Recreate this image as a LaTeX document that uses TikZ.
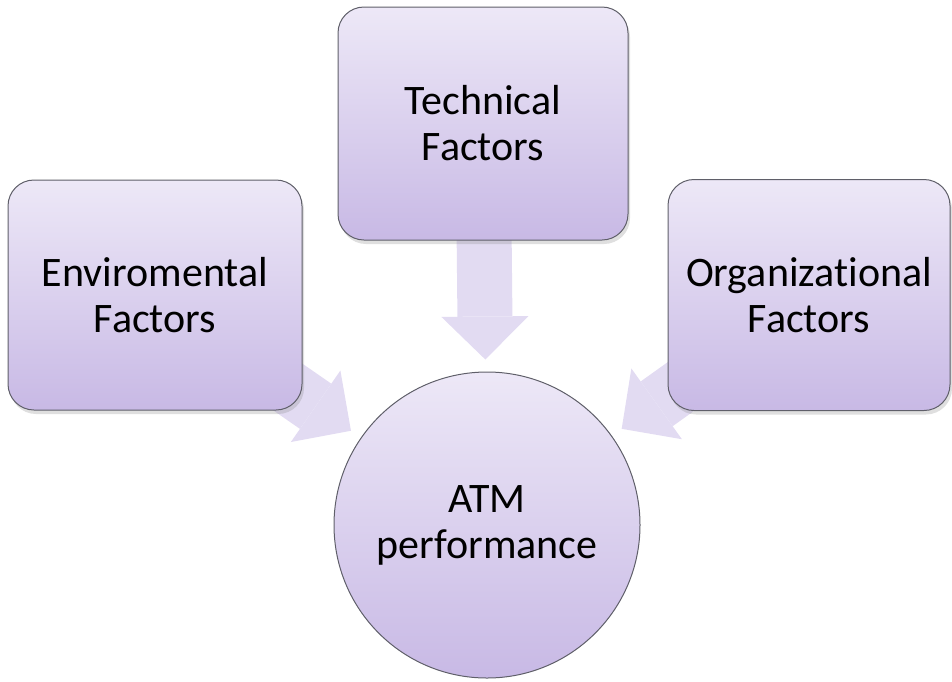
\documentclass[tikz,border=0pt]{standalone}
\usepackage{fontspec}
\setmainfont{Carlito}[Ligatures=NoCommon]
\usetikzlibrary{arrows.meta, shadows, backgrounds}

\definecolor{boxtop}{RGB}{237,232,247}
\definecolor{boxbot}{RGB}{200,185,229}
\definecolor{arrowfill}{RGB}{226,219,242}
\definecolor{rim}{RGB}{95,95,105}

\begin{document}
\begin{tikzpicture}[x=1pt, y=-1pt, font=\fontsize{42}{46}\selectfont]
  \tikzset{
    factor/.style={
      rectangle,
      rounded corners=26pt,
      draw=rim, line width=1pt,
      top color=boxtop, bottom color=boxbot,
      drop shadow={opacity=.25, shadow xshift=2pt, shadow yshift=-4pt},
      align=center,
      text centered},
    result/.style={
      circle,
      draw=rim, line width=1pt,
      top color=boxtop, bottom color=boxbot,
      minimum size=306pt, inner sep=0pt,
      align=center,
      text centered},
    feed/.style={
      draw=arrowfill, line width=55pt, shorten >=12pt,
      -{Triangle[width=87pt, length=43pt, line width=0pt]}}}

  \useasboundingbox (0,0) rectangle (952,681);

  \node[factor, minimum width=290pt, minimum height=233pt] (tf) at (483,123.5) {Technical\\Factors};
  \node[factor, minimum width=294pt, minimum height=230pt] (ef) at (155,295) {Enviromental\\Factors};
  \node[factor, minimum width=282pt, minimum height=231pt] (of) at (809,295) {Organizational\\Factors};
  \node[result] (atm) at (487,525) {ATM\\performance};

  % block arrows sit behind the boxes
  \begin{scope}[on background layer]
    \draw[feed] (tf.center) -- (atm);
    \draw[feed] (ef.center) -- (atm);
    \draw[feed] (of.center) -- (atm);
  \end{scope}

\end{tikzpicture}
\end{document}
